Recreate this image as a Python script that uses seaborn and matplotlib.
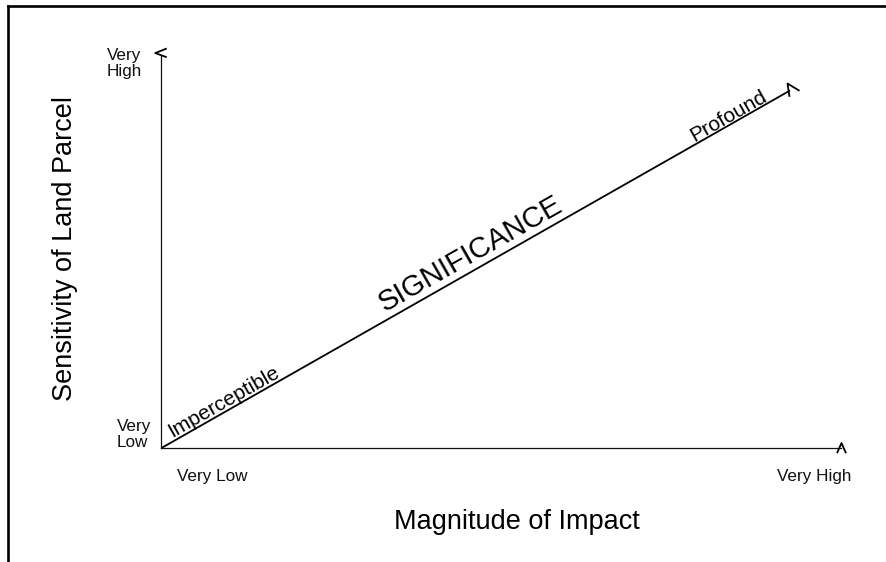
import numpy as np
import matplotlib
matplotlib.use("Agg")
import matplotlib.pyplot as plt
from matplotlib.lines import Line2D
from matplotlib.path import Path
import seaborn as sns

sns.set_style("white")
plt.rcParams['font.family'] = ['Liberation Sans', 'DejaVu Sans']

# Chart values
magnitude = [0.0, 0.924]      # x of the significance line
sensitivity = [0.0, 0.911]    # y of the significance line
x_levels = ["Very Low", "Very High"]
y_levels = ["Very\nLow", "Very\nHigh"]
line_labels = ["Imperceptible", "SIGNIFICANCE", "Profound"]
x_title = "Magnitude of Impact"
y_title = "Sensitivity of Land Parcel"

# layout of labels along the line: (fraction along line, gap px, fontsize)
label_layout = [(0.107, 4.0, 15), (0.505, 8.0, 21), (0.91, 2.5, 15)]

fig = plt.figure(figsize=(8.87, 5.62), dpi=100)
ax = fig.add_axes([161.5 / 887, 114 / 562, 679.5 / 887, 392 / 562])
ax.set_xlim(0, 1)
ax.set_ylim(0, 1)
ax.set_xticks([])
ax.set_yticks([])
for side in ["top", "right"]:
    ax.spines[side].set_visible(False)
for side in ["left", "bottom"]:
    ax.spines[side].set_color("#111111")
    ax.spines[side].set_linewidth(0.9)

# the diagonal significance line
sns.lineplot(x=magnitude, y=sensitivity, color="black", linewidth=1.3, ax=ax)


# open arrow heads (caret shapes)
def caret(verts):
    return Path(verts, [Path.MOVETO, Path.LINETO, Path.LINETO])


x_head = caret([(-4.5, -4.7), (0, 5.5), (4.5, -4.7)])
y_head = caret([(5, 7.7), (-6, 3.3), (5, -0.7)])
d_head = caret([(0, -5.3), (-2, 8), (10, 0.7)])
for pt, mk, sz in [((1, 0), x_head, 11), ((0, 1), y_head, 16), ((magnitude[1], sensitivity[1]), d_head, 20)]:
    ax.plot([pt[0]], [pt[1]], marker=mk, markersize=sz * 0.72, markerfacecolor="none",
            markeredgecolor="black", markeredgewidth=1.3, clip_on=False)

# labels along the line
p0 = ax.transData.transform((magnitude[0], sensitivity[0]))
p1 = ax.transData.transform((magnitude[1], sensitivity[1]))
theta = np.arctan2(p1[1] - p0[1], p1[0] - p0[0])
normal = np.array([-np.sin(theta), np.cos(theta)])
for text, (t, gap, fs) in zip(line_labels, label_layout):
    xy = (magnitude[1] * t, sensitivity[1] * t)
    off = normal * gap
    ax.annotate(text, xy=xy, xytext=(off[0], off[1]), textcoords="offset pixels",
                rotation=np.degrees(theta), rotation_mode="anchor",
                ha="center", va="baseline", fontsize=fs, color="black")

# level labels
ax.text(-0.0655, 0.003, y_levels[0], transform=ax.transAxes, ha="left", va="baseline",
        fontsize=12.3, linespacing=1.05, color="#111111")
ax.text(-0.0802, 0.949, y_levels[1], transform=ax.transAxes, ha="left", va="baseline",
        fontsize=12.3, linespacing=1.05, color="#111111")
ax.text(0.0228, -0.083, x_levels[0], transform=ax.transAxes, ha="left", va="baseline",
        fontsize=12.3, color="#111111")
ax.text(1.0147, -0.083, x_levels[1], transform=ax.transAxes, ha="right", va="baseline",
        fontsize=12.3, color="#111111")

# axis titles
ax.text(0.523, -0.189, x_title, transform=ax.transAxes, ha="center", va="center",
        fontsize=19.5, color="black")
ax.text(-0.142, 0.510, y_title, transform=ax.transAxes, ha="center", va="center",
        rotation=90, fontsize=19.5, color="black")

# frame on top and left edges
fig.add_artist(Line2D([8 / 887, 8 / 887], [0, 1 - 5.5 / 562], color="black", linewidth=1.9,
                      transform=fig.transFigure, solid_capstyle="projecting"))
fig.add_artist(Line2D([8 / 887, 886 / 887], [1 - 5.5 / 562, 1 - 5.5 / 562], color="black",
                      linewidth=1.9, transform=fig.transFigure, solid_capstyle="projecting"))

fig.savefig("out.png", dpi=100)
